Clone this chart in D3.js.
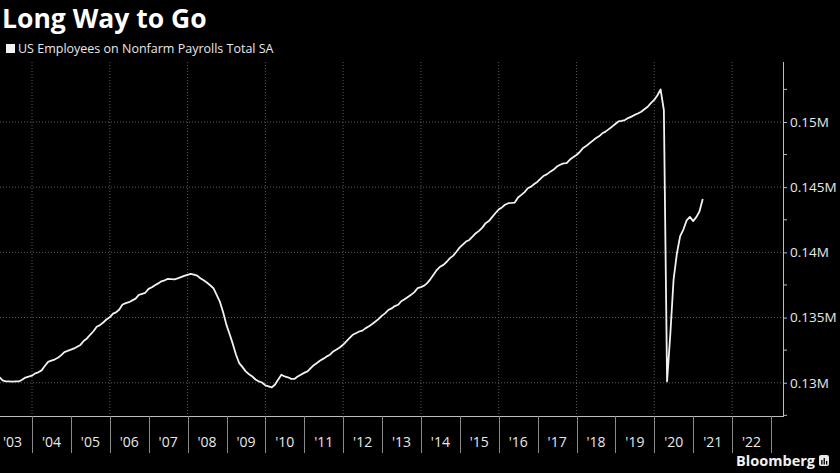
<!DOCTYPE html>
<html>
<head>
<meta charset="utf-8">
<script src="https://cdn.jsdelivr.net/npm/d3@7"></script>
<style>
  html, body { margin: 0; padding: 0; background: #000; }
  svg { display: block; }
</style>
</head>
<body>
<div id="chart"></div>
<script>
// US nonfarm payrolls, monthly, thousands
const firstMonth = [2003, 0];
const payrolls = [
  // 2003
  130600, 130440, 130180, 130100, 130110, 130090, 130100, 130100, 130230, 130400, 130470, 130540,
  // 2004
  130720, 130800, 130950, 131280, 131600, 131700, 131780, 131920, 132100, 132350, 132440, 132540,
  // 2005
  132630, 132760, 132900, 133200, 133400, 133680, 133950, 134300, 134420, 134620, 134850, 135020,
  // 2006
  135300, 135400, 135620, 136000, 136110, 136180, 136320, 136450, 136740, 136820, 136900, 137200,
  // 2007
  137330, 137480, 137620, 137780, 137860, 137970, 137950, 137930, 138000, 138100, 138200, 138280,
  // 2008
  138350, 138300, 138220, 138020, 137860, 137690, 137480, 137250, 136740, 136200, 135400, 134440,
  // 2009
  133700, 133000, 132150, 131500, 131200, 130870, 130650, 130480, 130250, 130100, 130020, 129800,
  // 2010
  129720, 129640, 129850, 130230, 130610, 130480, 130420, 130300, 130290, 130480, 130620, 130760,
  // 2011
  130870, 131100, 131350, 131510, 131700, 131850, 132020, 132150, 132400, 132550, 132700, 132910,
  // 2012
  133180, 133420, 133680, 133800, 133930, 134000, 134190, 134330, 134500, 134700, 134900, 135150,
  // 2013
  135340, 135580, 135700, 135880, 135980, 136250, 136400, 136580, 136740, 136950, 137250, 137330,
  // 2014
  137450, 137640, 137950, 138300, 138660, 138900, 139040, 139280, 139560, 139750, 140050, 140380,
  // 2015
  140620, 140830, 140950, 141200, 141470, 141650, 141900, 142240, 142400, 142700, 143000, 143280,
  // 2016
  143450, 143650, 143770, 143790, 143820, 144210, 144410, 144620, 144920, 145040, 145240, 145420,
  // 2017
  145680, 145880, 146000, 146190, 146350, 146580, 146720, 146830, 146850, 147120, 147300, 147470,
  // 2018
  147700, 147980, 148150, 148350, 148550, 148750, 148900, 149130, 149260, 149450, 149640, 149850,
  // 2019
  150050, 150080, 150150, 150300, 150410, 150540, 150650, 150790, 150980, 151170, 151450, 151690,
  // 2020
  152050, 152500, 150900, 130100, 133800, 137900, 139900, 141250, 141750, 142450, 142720, 142400,
  // 2021
  142720, 143130, 144100
];
const yMajor = [130000, 135000, 140000, 145000, 150000];
const yMinor = [127500, 132500, 137500, 142500, 147500, 152500];
const yearTicks = d3.range(2003, 2024);
const yearLabels = d3.range(2003, 2023);
const gridYears = [2004, 2006, 2008, 2010, 2012, 2014, 2016, 2018, 2020, 2022];

const title = "Long Way to Go";
const seriesName = "US Employees on Nonfarm Payrolls Total SA";

const W = 840, H = 473;
const m = { top: 62, right: 783, bottom: 416, left: 0 };
const FONT = "'Open Sans', 'DejaVu Sans', sans-serif";

const svg = d3.select("#chart").append("svg")
  .attr("width", W).attr("height", H)
  .style("background", "#000");

const data = payrolls.map((v, i) => ({
  date: new Date(firstMonth[0], firstMonth[1] + i + 1, 0),
  v
}));

const x = d3.scaleTime()
  .domain([new Date(2004, 0, 1), new Date(2023, 0, 1)])
  .range([32, 771]);
const y = d3.scaleLinear().domain([127450, 154600]).range([m.bottom, m.top]);

// clip
svg.append("clipPath").attr("id", "plot")
  .append("rect").attr("x", m.left).attr("y", m.top)
  .attr("width", m.right - m.left).attr("height", m.bottom - m.top);

// gridlines, dotted
svg.append("g").selectAll("line").data(yMajor).join("line")
  .attr("x1", m.left).attr("x2", m.right)
  .attr("y1", (d) => y(d)).attr("y2", (d) => y(d))
  .attr("stroke", "#5a5a5a").attr("stroke-width", 1)
  .attr("stroke-dasharray", "1,2");
svg.append("g").selectAll("line").data(gridYears).join("line")
  .attr("x1", (d) => x(new Date(d, 0, 1))).attr("x2", (d) => x(new Date(d, 0, 1)))
  .attr("y1", m.top).attr("y2", m.bottom)
  .attr("stroke", "#5a5a5a").attr("stroke-width", 1)
  .attr("stroke-dasharray", "1,2");

// right axis
const yAxis = svg.append("g").attr("transform", `translate(${m.right},0)`);
yAxis.append("line")
  .attr("x1", 0.5).attr("x2", 0.5).attr("y1", m.top).attr("y2", m.bottom + 1)
  .attr("stroke", "#bdbdbd");
yAxis.call((g) => g.append("g")
  .call(d3.axisRight(y).tickValues(yMajor).tickSize(4).tickPadding(3)
    .tickFormat((d) => d / 1e6 + "M"))
  .call((a) => a.select(".domain").remove())
  .call((a) => a.selectAll("line").attr("stroke", "#bdbdbd"))
  .selectAll("text").attr("fill", "#e8e8e8")
  .style("font-family", FONT).style("font-size", "13.5px"));
yAxis.append("g").selectAll("line").data(yMinor).join("line")
  .attr("x1", 0).attr("x2", 4)
  .attr("y1", (d) => y(d)).attr("y2", (d) => y(d))
  .attr("stroke", "#bdbdbd");

// bottom axis: year boundaries, labels centred in each year
const xAxis = svg.append("g");
xAxis.append("line")
  .attr("x1", m.left).attr("x2", m.right + 1)
  .attr("y1", m.bottom + 0.5).attr("y2", m.bottom + 0.5)
  .attr("stroke", "#bdbdbd");
xAxis.selectAll(".tk").data(yearTicks).join("line")
  .attr("x1", (d) => Math.round(x(new Date(d, 0, 1))) + 0.5)
  .attr("x2", (d) => Math.round(x(new Date(d, 0, 1))) + 0.5)
  .attr("y1", m.bottom).attr("y2", 453)
  .attr("stroke", "#8a8a8a");
xAxis.selectAll("text").data(yearLabels).join("text")
  .attr("x", (d) => (x(new Date(d, 0, 1)) + x(new Date(d + 1, 0, 1))) / 2)
  .attr("y", 447)
  .attr("text-anchor", "middle")
  .attr("fill", "#e8e8e8")
  .style("font-family", FONT).style("font-size", "14px")
  .text((d) => "'" + String(d).slice(2));

// the line
const line = d3.line().x((d) => x(d.date)).y((d) => y(d.v));
svg.append("path")
  .datum(data)
  .attr("clip-path", "url(#plot)")
  .attr("fill", "none")
  .attr("stroke", "#f2f2f2")
  .attr("stroke-width", 1.8)
  .attr("stroke-linejoin", "round")
  .attr("d", line);

// title + legend
svg.append("text")
  .attr("x", 2).attr("y", 28)
  .attr("fill", "#fff")
  .style("font-family", FONT).style("font-weight", 700).style("font-size", "26.5px")
  .text(title);
svg.append("rect")
  .attr("x", 6).attr("y", 44).attr("width", 9).attr("height", 9)
  .attr("fill", "#f2f2f2");
svg.append("text")
  .attr("x", 18).attr("y", 53)
  .attr("fill", "#e8e8e8")
  .style("font-family", FONT).style("font-size", "12.5px")
  .text(seriesName);

// Bloomberg mark
svg.append("text")
  .attr("x", 815).attr("y", 466)
  .attr("text-anchor", "end")
  .attr("fill", "#f2f2f2")
  .style("font-family", FONT).style("font-weight", 700).style("font-size", "14.5px")
  .text("Bloomberg");
const logo = svg.append("g").attr("transform", "translate(819,455)");
logo.append("rect").attr("width", 10).attr("height", 11).attr("rx", 2).attr("fill", "#e8e8e8");
logo.selectAll(".bar").data([[2.2, 5], [4.6, 3], [7, 6]]).join("rect")
  .attr("x", (d) => d[0]).attr("y", (d) => d[1]).attr("width", 1.3).attr("height", (d) => 9.5 - d[1])
  .attr("fill", "#000");
</script>
</body>
</html>
